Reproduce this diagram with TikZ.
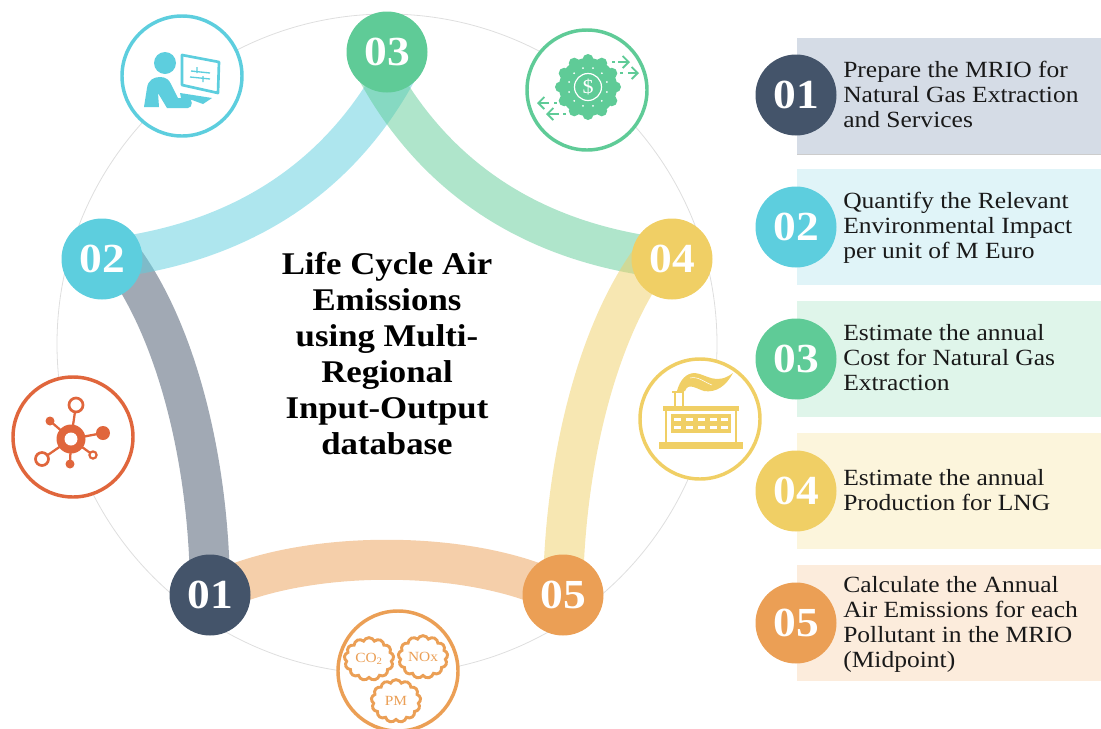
\documentclass[tikz,border=0pt]{standalone}
\usepackage{fontspec}
\setmainfont{Liberation Serif}[FakeStretch=1.1]
\usetikzlibrary{backgrounds,shapes.symbols,arrows.meta}
\definecolor{cA}{HTML}{44546A}
\definecolor{cB}{HTML}{5DCEDE}
\definecolor{cC}{HTML}{5FCB97}
\definecolor{cD}{HTML}{F0CF65}
\definecolor{cE}{HTML}{EB9F55}
\definecolor{cF}{HTML}{E0663C}
\definecolor{bA}{HTML}{D5DCE6}
\definecolor{bB}{HTML}{E0F4F8}
\definecolor{bC}{HTML}{DFF5EA}
\definecolor{bD}{HTML}{FCF5DC}
\definecolor{bE}{HTML}{FCECDC}
\tikzset{
  x=0.75pt,y=-0.75pt,
  num/.style={circle,minimum size=60.75pt,inner sep=0pt,text=white,font=\fontsize{31}{31}\selectfont\bfseries,fill=#1},
  band/.style={draw=#1,line width=30pt,opacity=0.5},
  icon/.style={circle,minimum size=90pt,inner sep=0pt,draw=#1,line width=2.6pt,fill=white},
  panel/.style={minimum width=228pt,minimum height=87pt,inner sep=0pt,anchor=north west,fill=#1},
  desc/.style={anchor=west,align=left,inner sep=0pt,text=black!90,font=\fontsize{17.4}{18.75}\selectfont},
  cloudy/.style={cloud,cloud puffs=13,cloud puff arc=130,aspect=1.2,draw=cE,line width=2.2pt,fill=white,inner sep=0pt,minimum width=37pt,minimum height=32pt,text=cE,font=\fontsize{10.5}{10.5}\selectfont},
  barb/.style={-{Straight Barb[length=4.5pt,width=9pt]},line width=1.4pt,cC},
}
\begin{document}
\begin{tikzpicture}
\path[use as bounding box,clip] (0,0) rectangle (1101,729);
% right panels
\node[panel=bA] (pa) at (797,38) {};
\node[panel=bB] (pb) at (797,169) {};
\node[panel=bC] (pc) at (797,301) {};
\node[panel=bD] (pd) at (797,433) {};
\node[panel=bE] (pe) at (797,565) {};
\draw[black!20,line width=0.6pt] (pa.south west) -- (pa.south east);
\node[num=cA] (ra) at (796,95) {01};
\node[num=cB] (rb) at (796,227) {02};
\node[num=cC] (rc) at (796,359) {03};
\node[num=cD] (rd) at (796,491) {04};
\node[num=cE] (re) at (796,623) {05};
\node[desc] (ta) at (843,94) {Prepare the MRIO for\\Natural Gas Extraction\\and Services};
\node[desc] (tb) at (843,228) {Quantify the Relevant\\Environmental Impact\\per unit of M Euro};
\node[desc] (tc) at (843,358) {Estimate the annual\\Cost for Natural Gas\\Extraction};
\node[desc] (td) at (843,490) {Estimate the annual\\Production for LNG};
\node[desc] (te) at (843,624) {Calculate the Annual\\Air Emissions for each\\Pollutant in the MRIO\\(Midpoint)};
% main ring nodes
\node[num=cA] (n1) at (210,595) {01};
\node[num=cB] (n2) at (102,259) {02};
\node[num=cC] (n3) at (387,52) {03};
\node[num=cD] (n4) at (672,259) {04};
\node[num=cE] (n5) at (563,595) {05};
% icon circles
\node[icon=cB] (i2) at (182,76) {};
\node[icon=cC] (i3) at (587,90) {};
\node[icon=cF] (i1) at (73,437) {};
\node[icon=cD] (i4) at (700,419) {};
\node[icon=cE] (i5) at (398,671) {};
\begin{pgfonlayer}{background}
\coordinate (ringc) at (387,344);
\coordinate (e3l) at (402,62);
\coordinate (e3r) at (372,62);
\coordinate (e2g) at (125,262);
\coordinate (e4y) at (649,262);
\draw[black!13,line width=0.6pt] (ringc) circle[radius=330];
\draw[band=cA] (n1.center) .. controls (210,470) and (180,340) .. (e2g);
\draw[band=cB] (n2.center) .. controls (235,245) and (340,182) .. (e3l);
\draw[band=cC] (n4.center) .. controls (539,245) and (434,182) .. (e3r);
\draw[band=cD] (e4y) .. controls (594,340) and (564,470) .. (n5.center);
\draw[band=cE] (n5.center) .. controls (474,548) and (300,548) .. (n1.center);
\end{pgfonlayer}
% title
\node[align=center,inner sep=0pt,font=\fontsize{23.7}{27}\selectfont\bfseries] (title) at (387,354)
 {Life Cycle Air\\Emissions\\using Multi-\\Regional\\Input-Output\\database};
% computer user icon
\fill[cB] (165,63) circle[radius=11];
\fill[cB] (144,107) -- (147,88) .. controls (148,80) and (154,77) .. (160,77) .. controls (166,77) and (169,80) .. (171,84) -- (178,98) -- (188,98) .. controls (193,98) and (193,108) .. (188,108) -- (167,108) -- (158,93) -- (159,107) -- cycle;
\fill[cB] (180,93) -- (212,98) -- (203,104) -- (192,100) -- (181,98) -- cycle;
\draw[cB,line width=2pt,line join=round] (182,55) -- (219,62) -- (218,93) -- (182,85) -- cycle;
\draw[cB,line width=1pt] (191,71) -- (210,73) (190,77) -- (210,79) (197,67) -- (197,73) (203,76) -- (203,82);
% gear icon
\fill[cC] (588,87) circle[radius=29];
\foreach \a in {0,30,...,330} \fill[cC] (588,87) ++(\a:27.5) circle[radius=5.5];
\foreach \a in {15,45,...,345} \fill[white] (588,87) ++(\a:19.5) circle[radius=1];
\draw[white,line width=0.9pt] (588,87) circle[radius=13.5];
\node[text=white,inner sep=0pt,font=\fontsize{15}{15}\selectfont] (dollar) at (588,87) {\$};
\draw[barb] (618,62) -- (630,62);
\draw[barb] (628,73) -- (639,73);
\draw[cC,line width=1.4pt] (612,62) -- (615,62) (620,73) -- (623,73);
\draw[barb] (549,103) -- (537,103);
\draw[barb] (559,114) -- (546,114);
\draw[cC,line width=1.4pt] (554,103) -- (557,103) (563,114) -- (566,114);
% network icon
\draw[cF,line width=1.7pt] (71,439) -- (76,405) (71,439) -- (50,421) (71,439) -- (103,433) (71,439) -- (93,455) (71,439) -- (70,464) (71,439) -- (42,459);
\fill[cF] (71,439) circle[radius=14.5];
\fill[white] (71,439) circle[radius=6.5];
\draw[cF,line width=2pt,fill=white] (76,405) circle[radius=7];
\fill[cF] (50,421) circle[radius=4.5];
\fill[cF] (103,433) circle[radius=7];
\draw[cF,line width=1.6pt,fill=white] (93,455) circle[radius=3.6];
\fill[cF] (70,464) circle[radius=4.5];
\draw[cF,line width=2pt,fill=white] (42,459) circle[radius=6.5];
% factory icon
\fill[cD] (659,442) rectangle (743,449);
\fill[cD] (663,406) rectangle (739,411);
\draw[cD,line width=1.8pt] (666,408) -- (666,444) (736,408) -- (736,444);
\fill[cD] (671,414) rectangle (731,433);
\foreach \wx/\wy in {674/418,686/418,698/418,710/418,721/418,674/426,686/426,698/426,710/426,721/426}
  \fill[white] (\wx,\wy) rectangle ++(6.5,3);
\draw[cD,line width=2.2pt] (672,392) -- (683,392) -- (683,407) (675,392) -- (675,407);
\fill[cD] (677,391) .. controls (680,380) and (686,373) .. (695,373) .. controls (706,374) and (716,386) .. (733,373) .. controls (726,386) and (716,393) .. (704,391) .. controls (697,389) and (688,382) .. (685,391) -- cycle;
\draw[white,line width=0.4pt] (690,378) .. controls (698,376) and (704,382) .. (712,385);
% cloud icon
\node[cloudy] (co) at (369,659) {CO\textsubscript{2}};
\node[cloudy] (no) at (423,657) {NOx};
\node[cloudy] (pm) at (396,701) {PM};
\end{tikzpicture}
\end{document}
